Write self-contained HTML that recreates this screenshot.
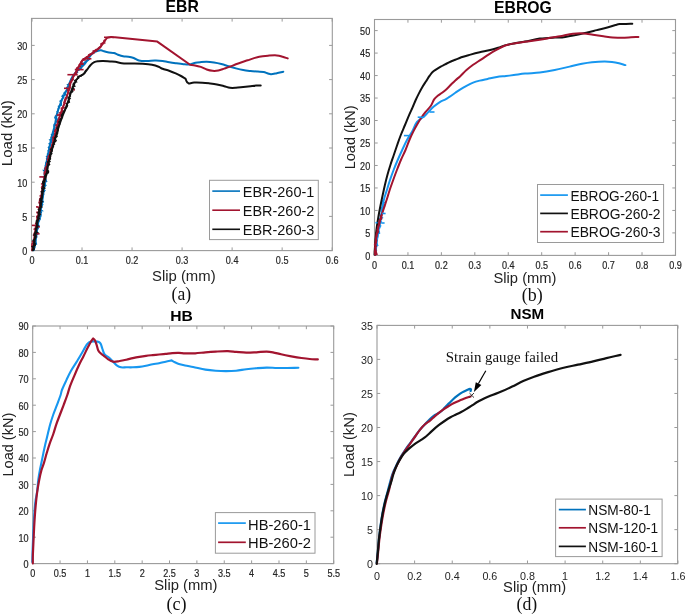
<!DOCTYPE html><html><head><meta charset="utf-8"><style>html,body{margin:0;padding:0;background:#fff}svg{display:block;will-change:transform}</style></head><body><svg width="685" height="615" viewBox="0 0 685 615">
<rect width="685" height="615" fill="#fff"/>
<rect x="31.5" y="18.4" width="300.8" height="232.2" fill="none" stroke="#9a9a9a" stroke-width="1.1"/>
<line x1="32.00" y1="250.6" x2="32.00" y2="247.4" stroke="#9a9a9a" stroke-width="1"/>
<line x1="32.00" y1="18.4" x2="32.00" y2="21.599999999999998" stroke="#9a9a9a" stroke-width="1"/>
<text transform="translate(32.00,264.1) scale(0.9,1)" font-size="10.1" text-anchor="middle" fill="#262626" stroke="#262626" stroke-width="0.2" font-family="Liberation Sans, sans-serif">0</text>
<line x1="82.03" y1="250.6" x2="82.03" y2="247.4" stroke="#9a9a9a" stroke-width="1"/>
<line x1="82.03" y1="18.4" x2="82.03" y2="21.599999999999998" stroke="#9a9a9a" stroke-width="1"/>
<text transform="translate(82.03,264.1) scale(0.9,1)" font-size="10.1" text-anchor="middle" fill="#262626" stroke="#262626" stroke-width="0.2" font-family="Liberation Sans, sans-serif">0.1</text>
<line x1="132.06" y1="250.6" x2="132.06" y2="247.4" stroke="#9a9a9a" stroke-width="1"/>
<line x1="132.06" y1="18.4" x2="132.06" y2="21.599999999999998" stroke="#9a9a9a" stroke-width="1"/>
<text transform="translate(132.06,264.1) scale(0.9,1)" font-size="10.1" text-anchor="middle" fill="#262626" stroke="#262626" stroke-width="0.2" font-family="Liberation Sans, sans-serif">0.2</text>
<line x1="182.09" y1="250.6" x2="182.09" y2="247.4" stroke="#9a9a9a" stroke-width="1"/>
<line x1="182.09" y1="18.4" x2="182.09" y2="21.599999999999998" stroke="#9a9a9a" stroke-width="1"/>
<text transform="translate(182.09,264.1) scale(0.9,1)" font-size="10.1" text-anchor="middle" fill="#262626" stroke="#262626" stroke-width="0.2" font-family="Liberation Sans, sans-serif">0.3</text>
<line x1="232.12" y1="250.6" x2="232.12" y2="247.4" stroke="#9a9a9a" stroke-width="1"/>
<line x1="232.12" y1="18.4" x2="232.12" y2="21.599999999999998" stroke="#9a9a9a" stroke-width="1"/>
<text transform="translate(232.12,264.1) scale(0.9,1)" font-size="10.1" text-anchor="middle" fill="#262626" stroke="#262626" stroke-width="0.2" font-family="Liberation Sans, sans-serif">0.4</text>
<line x1="282.15" y1="250.6" x2="282.15" y2="247.4" stroke="#9a9a9a" stroke-width="1"/>
<line x1="282.15" y1="18.4" x2="282.15" y2="21.599999999999998" stroke="#9a9a9a" stroke-width="1"/>
<text transform="translate(282.15,264.1) scale(0.9,1)" font-size="10.1" text-anchor="middle" fill="#262626" stroke="#262626" stroke-width="0.2" font-family="Liberation Sans, sans-serif">0.5</text>
<line x1="332.18" y1="250.6" x2="332.18" y2="247.4" stroke="#9a9a9a" stroke-width="1"/>
<line x1="332.18" y1="18.4" x2="332.18" y2="21.599999999999998" stroke="#9a9a9a" stroke-width="1"/>
<text transform="translate(332.18,264.1) scale(0.9,1)" font-size="10.1" text-anchor="middle" fill="#262626" stroke="#262626" stroke-width="0.2" font-family="Liberation Sans, sans-serif">0.6</text>
<line x1="31.5" y1="250.60" x2="34.7" y2="250.60" stroke="#9a9a9a" stroke-width="1"/>
<line x1="332.3" y1="250.60" x2="329.1" y2="250.60" stroke="#9a9a9a" stroke-width="1"/>
<text transform="translate(27.4,254.99) scale(0.9,1)" font-size="10.1" text-anchor="end" fill="#262626" stroke="#262626" stroke-width="0.2" font-family="Liberation Sans, sans-serif">0</text>
<line x1="31.5" y1="216.40" x2="34.7" y2="216.40" stroke="#9a9a9a" stroke-width="1"/>
<line x1="332.3" y1="216.40" x2="329.1" y2="216.40" stroke="#9a9a9a" stroke-width="1"/>
<text transform="translate(27.4,220.79) scale(0.9,1)" font-size="10.1" text-anchor="end" fill="#262626" stroke="#262626" stroke-width="0.2" font-family="Liberation Sans, sans-serif">5</text>
<line x1="31.5" y1="182.20" x2="34.7" y2="182.20" stroke="#9a9a9a" stroke-width="1"/>
<line x1="332.3" y1="182.20" x2="329.1" y2="182.20" stroke="#9a9a9a" stroke-width="1"/>
<text transform="translate(27.4,186.59) scale(0.9,1)" font-size="10.1" text-anchor="end" fill="#262626" stroke="#262626" stroke-width="0.2" font-family="Liberation Sans, sans-serif">10</text>
<line x1="31.5" y1="148.00" x2="34.7" y2="148.00" stroke="#9a9a9a" stroke-width="1"/>
<line x1="332.3" y1="148.00" x2="329.1" y2="148.00" stroke="#9a9a9a" stroke-width="1"/>
<text transform="translate(27.4,152.39) scale(0.9,1)" font-size="10.1" text-anchor="end" fill="#262626" stroke="#262626" stroke-width="0.2" font-family="Liberation Sans, sans-serif">15</text>
<line x1="31.5" y1="113.80" x2="34.7" y2="113.80" stroke="#9a9a9a" stroke-width="1"/>
<line x1="332.3" y1="113.80" x2="329.1" y2="113.80" stroke="#9a9a9a" stroke-width="1"/>
<text transform="translate(27.4,118.19) scale(0.9,1)" font-size="10.1" text-anchor="end" fill="#262626" stroke="#262626" stroke-width="0.2" font-family="Liberation Sans, sans-serif">20</text>
<line x1="31.5" y1="79.60" x2="34.7" y2="79.60" stroke="#9a9a9a" stroke-width="1"/>
<line x1="332.3" y1="79.60" x2="329.1" y2="79.60" stroke="#9a9a9a" stroke-width="1"/>
<text transform="translate(27.4,83.99) scale(0.9,1)" font-size="10.1" text-anchor="end" fill="#262626" stroke="#262626" stroke-width="0.2" font-family="Liberation Sans, sans-serif">25</text>
<line x1="31.5" y1="45.40" x2="34.7" y2="45.40" stroke="#9a9a9a" stroke-width="1"/>
<line x1="332.3" y1="45.40" x2="329.1" y2="45.40" stroke="#9a9a9a" stroke-width="1"/>
<text transform="translate(27.4,49.79) scale(0.9,1)" font-size="10.1" text-anchor="end" fill="#262626" stroke="#262626" stroke-width="0.2" font-family="Liberation Sans, sans-serif">30</text>
<rect x="374.5" y="19.5" width="301.0" height="235.9" fill="none" stroke="#9a9a9a" stroke-width="1.1"/>
<line x1="374.50" y1="255.4" x2="374.50" y2="252.20000000000002" stroke="#9a9a9a" stroke-width="1"/>
<line x1="374.50" y1="19.5" x2="374.50" y2="22.7" stroke="#9a9a9a" stroke-width="1"/>
<text transform="translate(374.50,269.1) scale(0.9,1)" font-size="10.1" text-anchor="middle" fill="#262626" stroke="#262626" stroke-width="0.2" font-family="Liberation Sans, sans-serif">0</text>
<line x1="407.94" y1="255.4" x2="407.94" y2="252.20000000000002" stroke="#9a9a9a" stroke-width="1"/>
<line x1="407.94" y1="19.5" x2="407.94" y2="22.7" stroke="#9a9a9a" stroke-width="1"/>
<text transform="translate(407.94,269.1) scale(0.9,1)" font-size="10.1" text-anchor="middle" fill="#262626" stroke="#262626" stroke-width="0.2" font-family="Liberation Sans, sans-serif">0.1</text>
<line x1="441.38" y1="255.4" x2="441.38" y2="252.20000000000002" stroke="#9a9a9a" stroke-width="1"/>
<line x1="441.38" y1="19.5" x2="441.38" y2="22.7" stroke="#9a9a9a" stroke-width="1"/>
<text transform="translate(441.38,269.1) scale(0.9,1)" font-size="10.1" text-anchor="middle" fill="#262626" stroke="#262626" stroke-width="0.2" font-family="Liberation Sans, sans-serif">0.2</text>
<line x1="474.82" y1="255.4" x2="474.82" y2="252.20000000000002" stroke="#9a9a9a" stroke-width="1"/>
<line x1="474.82" y1="19.5" x2="474.82" y2="22.7" stroke="#9a9a9a" stroke-width="1"/>
<text transform="translate(474.82,269.1) scale(0.9,1)" font-size="10.1" text-anchor="middle" fill="#262626" stroke="#262626" stroke-width="0.2" font-family="Liberation Sans, sans-serif">0.3</text>
<line x1="508.26" y1="255.4" x2="508.26" y2="252.20000000000002" stroke="#9a9a9a" stroke-width="1"/>
<line x1="508.26" y1="19.5" x2="508.26" y2="22.7" stroke="#9a9a9a" stroke-width="1"/>
<text transform="translate(508.26,269.1) scale(0.9,1)" font-size="10.1" text-anchor="middle" fill="#262626" stroke="#262626" stroke-width="0.2" font-family="Liberation Sans, sans-serif">0.4</text>
<line x1="541.70" y1="255.4" x2="541.70" y2="252.20000000000002" stroke="#9a9a9a" stroke-width="1"/>
<line x1="541.70" y1="19.5" x2="541.70" y2="22.7" stroke="#9a9a9a" stroke-width="1"/>
<text transform="translate(541.70,269.1) scale(0.9,1)" font-size="10.1" text-anchor="middle" fill="#262626" stroke="#262626" stroke-width="0.2" font-family="Liberation Sans, sans-serif">0.5</text>
<line x1="575.14" y1="255.4" x2="575.14" y2="252.20000000000002" stroke="#9a9a9a" stroke-width="1"/>
<line x1="575.14" y1="19.5" x2="575.14" y2="22.7" stroke="#9a9a9a" stroke-width="1"/>
<text transform="translate(575.14,269.1) scale(0.9,1)" font-size="10.1" text-anchor="middle" fill="#262626" stroke="#262626" stroke-width="0.2" font-family="Liberation Sans, sans-serif">0.6</text>
<line x1="608.58" y1="255.4" x2="608.58" y2="252.20000000000002" stroke="#9a9a9a" stroke-width="1"/>
<line x1="608.58" y1="19.5" x2="608.58" y2="22.7" stroke="#9a9a9a" stroke-width="1"/>
<text transform="translate(608.58,269.1) scale(0.9,1)" font-size="10.1" text-anchor="middle" fill="#262626" stroke="#262626" stroke-width="0.2" font-family="Liberation Sans, sans-serif">0.7</text>
<line x1="642.02" y1="255.4" x2="642.02" y2="252.20000000000002" stroke="#9a9a9a" stroke-width="1"/>
<line x1="642.02" y1="19.5" x2="642.02" y2="22.7" stroke="#9a9a9a" stroke-width="1"/>
<text transform="translate(642.02,269.1) scale(0.9,1)" font-size="10.1" text-anchor="middle" fill="#262626" stroke="#262626" stroke-width="0.2" font-family="Liberation Sans, sans-serif">0.8</text>
<line x1="675.46" y1="255.4" x2="675.46" y2="252.20000000000002" stroke="#9a9a9a" stroke-width="1"/>
<line x1="675.46" y1="19.5" x2="675.46" y2="22.7" stroke="#9a9a9a" stroke-width="1"/>
<text transform="translate(675.46,269.1) scale(0.9,1)" font-size="10.1" text-anchor="middle" fill="#262626" stroke="#262626" stroke-width="0.2" font-family="Liberation Sans, sans-serif">0.9</text>
<line x1="374.5" y1="255.40" x2="377.7" y2="255.40" stroke="#9a9a9a" stroke-width="1"/>
<line x1="675.5" y1="255.40" x2="672.3" y2="255.40" stroke="#9a9a9a" stroke-width="1"/>
<text transform="translate(370.2,259.79) scale(0.9,1)" font-size="10.1" text-anchor="end" fill="#262626" stroke="#262626" stroke-width="0.2" font-family="Liberation Sans, sans-serif">0</text>
<line x1="374.5" y1="232.92" x2="377.7" y2="232.92" stroke="#9a9a9a" stroke-width="1"/>
<line x1="675.5" y1="232.92" x2="672.3" y2="232.92" stroke="#9a9a9a" stroke-width="1"/>
<text transform="translate(370.2,237.31) scale(0.9,1)" font-size="10.1" text-anchor="end" fill="#262626" stroke="#262626" stroke-width="0.2" font-family="Liberation Sans, sans-serif">5</text>
<line x1="374.5" y1="210.44" x2="377.7" y2="210.44" stroke="#9a9a9a" stroke-width="1"/>
<line x1="675.5" y1="210.44" x2="672.3" y2="210.44" stroke="#9a9a9a" stroke-width="1"/>
<text transform="translate(370.2,214.83) scale(0.9,1)" font-size="10.1" text-anchor="end" fill="#262626" stroke="#262626" stroke-width="0.2" font-family="Liberation Sans, sans-serif">10</text>
<line x1="374.5" y1="187.96" x2="377.7" y2="187.96" stroke="#9a9a9a" stroke-width="1"/>
<line x1="675.5" y1="187.96" x2="672.3" y2="187.96" stroke="#9a9a9a" stroke-width="1"/>
<text transform="translate(370.2,192.35) scale(0.9,1)" font-size="10.1" text-anchor="end" fill="#262626" stroke="#262626" stroke-width="0.2" font-family="Liberation Sans, sans-serif">15</text>
<line x1="374.5" y1="165.48" x2="377.7" y2="165.48" stroke="#9a9a9a" stroke-width="1"/>
<line x1="675.5" y1="165.48" x2="672.3" y2="165.48" stroke="#9a9a9a" stroke-width="1"/>
<text transform="translate(370.2,169.87) scale(0.9,1)" font-size="10.1" text-anchor="end" fill="#262626" stroke="#262626" stroke-width="0.2" font-family="Liberation Sans, sans-serif">20</text>
<line x1="374.5" y1="143.00" x2="377.7" y2="143.00" stroke="#9a9a9a" stroke-width="1"/>
<line x1="675.5" y1="143.00" x2="672.3" y2="143.00" stroke="#9a9a9a" stroke-width="1"/>
<text transform="translate(370.2,147.39) scale(0.9,1)" font-size="10.1" text-anchor="end" fill="#262626" stroke="#262626" stroke-width="0.2" font-family="Liberation Sans, sans-serif">25</text>
<line x1="374.5" y1="120.52" x2="377.7" y2="120.52" stroke="#9a9a9a" stroke-width="1"/>
<line x1="675.5" y1="120.52" x2="672.3" y2="120.52" stroke="#9a9a9a" stroke-width="1"/>
<text transform="translate(370.2,124.91) scale(0.9,1)" font-size="10.1" text-anchor="end" fill="#262626" stroke="#262626" stroke-width="0.2" font-family="Liberation Sans, sans-serif">30</text>
<line x1="374.5" y1="98.04" x2="377.7" y2="98.04" stroke="#9a9a9a" stroke-width="1"/>
<line x1="675.5" y1="98.04" x2="672.3" y2="98.04" stroke="#9a9a9a" stroke-width="1"/>
<text transform="translate(370.2,102.43) scale(0.9,1)" font-size="10.1" text-anchor="end" fill="#262626" stroke="#262626" stroke-width="0.2" font-family="Liberation Sans, sans-serif">35</text>
<line x1="374.5" y1="75.56" x2="377.7" y2="75.56" stroke="#9a9a9a" stroke-width="1"/>
<line x1="675.5" y1="75.56" x2="672.3" y2="75.56" stroke="#9a9a9a" stroke-width="1"/>
<text transform="translate(370.2,79.95) scale(0.9,1)" font-size="10.1" text-anchor="end" fill="#262626" stroke="#262626" stroke-width="0.2" font-family="Liberation Sans, sans-serif">40</text>
<line x1="374.5" y1="53.08" x2="377.7" y2="53.08" stroke="#9a9a9a" stroke-width="1"/>
<line x1="675.5" y1="53.08" x2="672.3" y2="53.08" stroke="#9a9a9a" stroke-width="1"/>
<text transform="translate(370.2,57.47) scale(0.9,1)" font-size="10.1" text-anchor="end" fill="#262626" stroke="#262626" stroke-width="0.2" font-family="Liberation Sans, sans-serif">45</text>
<line x1="374.5" y1="30.60" x2="377.7" y2="30.60" stroke="#9a9a9a" stroke-width="1"/>
<line x1="675.5" y1="30.60" x2="672.3" y2="30.60" stroke="#9a9a9a" stroke-width="1"/>
<text transform="translate(370.2,34.99) scale(0.9,1)" font-size="10.1" text-anchor="end" fill="#262626" stroke="#262626" stroke-width="0.2" font-family="Liberation Sans, sans-serif">50</text>
<rect x="32.7" y="326.0" width="301.0" height="237.60000000000002" fill="none" stroke="#9a9a9a" stroke-width="1.1"/>
<line x1="32.70" y1="563.6" x2="32.70" y2="560.4" stroke="#9a9a9a" stroke-width="1"/>
<line x1="32.70" y1="326.0" x2="32.70" y2="329.2" stroke="#9a9a9a" stroke-width="1"/>
<text transform="translate(32.70,577.3) scale(0.9,1)" font-size="10.1" text-anchor="middle" fill="#262626" stroke="#262626" stroke-width="0.2" font-family="Liberation Sans, sans-serif">0</text>
<line x1="60.06" y1="563.6" x2="60.06" y2="560.4" stroke="#9a9a9a" stroke-width="1"/>
<line x1="60.06" y1="326.0" x2="60.06" y2="329.2" stroke="#9a9a9a" stroke-width="1"/>
<text transform="translate(60.06,577.3) scale(0.9,1)" font-size="10.1" text-anchor="middle" fill="#262626" stroke="#262626" stroke-width="0.2" font-family="Liberation Sans, sans-serif">0.5</text>
<line x1="87.43" y1="563.6" x2="87.43" y2="560.4" stroke="#9a9a9a" stroke-width="1"/>
<line x1="87.43" y1="326.0" x2="87.43" y2="329.2" stroke="#9a9a9a" stroke-width="1"/>
<text transform="translate(87.43,577.3) scale(0.9,1)" font-size="10.1" text-anchor="middle" fill="#262626" stroke="#262626" stroke-width="0.2" font-family="Liberation Sans, sans-serif">1</text>
<line x1="114.80" y1="563.6" x2="114.80" y2="560.4" stroke="#9a9a9a" stroke-width="1"/>
<line x1="114.80" y1="326.0" x2="114.80" y2="329.2" stroke="#9a9a9a" stroke-width="1"/>
<text transform="translate(114.80,577.3) scale(0.9,1)" font-size="10.1" text-anchor="middle" fill="#262626" stroke="#262626" stroke-width="0.2" font-family="Liberation Sans, sans-serif">1.5</text>
<line x1="142.16" y1="563.6" x2="142.16" y2="560.4" stroke="#9a9a9a" stroke-width="1"/>
<line x1="142.16" y1="326.0" x2="142.16" y2="329.2" stroke="#9a9a9a" stroke-width="1"/>
<text transform="translate(142.16,577.3) scale(0.9,1)" font-size="10.1" text-anchor="middle" fill="#262626" stroke="#262626" stroke-width="0.2" font-family="Liberation Sans, sans-serif">2</text>
<line x1="169.52" y1="563.6" x2="169.52" y2="560.4" stroke="#9a9a9a" stroke-width="1"/>
<line x1="169.52" y1="326.0" x2="169.52" y2="329.2" stroke="#9a9a9a" stroke-width="1"/>
<text transform="translate(169.52,577.3) scale(0.9,1)" font-size="10.1" text-anchor="middle" fill="#262626" stroke="#262626" stroke-width="0.2" font-family="Liberation Sans, sans-serif">2.5</text>
<line x1="196.89" y1="563.6" x2="196.89" y2="560.4" stroke="#9a9a9a" stroke-width="1"/>
<line x1="196.89" y1="326.0" x2="196.89" y2="329.2" stroke="#9a9a9a" stroke-width="1"/>
<text transform="translate(196.89,577.3) scale(0.9,1)" font-size="10.1" text-anchor="middle" fill="#262626" stroke="#262626" stroke-width="0.2" font-family="Liberation Sans, sans-serif">3</text>
<line x1="224.25" y1="563.6" x2="224.25" y2="560.4" stroke="#9a9a9a" stroke-width="1"/>
<line x1="224.25" y1="326.0" x2="224.25" y2="329.2" stroke="#9a9a9a" stroke-width="1"/>
<text transform="translate(224.25,577.3) scale(0.9,1)" font-size="10.1" text-anchor="middle" fill="#262626" stroke="#262626" stroke-width="0.2" font-family="Liberation Sans, sans-serif">3.5</text>
<line x1="251.62" y1="563.6" x2="251.62" y2="560.4" stroke="#9a9a9a" stroke-width="1"/>
<line x1="251.62" y1="326.0" x2="251.62" y2="329.2" stroke="#9a9a9a" stroke-width="1"/>
<text transform="translate(251.62,577.3) scale(0.9,1)" font-size="10.1" text-anchor="middle" fill="#262626" stroke="#262626" stroke-width="0.2" font-family="Liberation Sans, sans-serif">4</text>
<line x1="278.99" y1="563.6" x2="278.99" y2="560.4" stroke="#9a9a9a" stroke-width="1"/>
<line x1="278.99" y1="326.0" x2="278.99" y2="329.2" stroke="#9a9a9a" stroke-width="1"/>
<text transform="translate(278.99,577.3) scale(0.9,1)" font-size="10.1" text-anchor="middle" fill="#262626" stroke="#262626" stroke-width="0.2" font-family="Liberation Sans, sans-serif">4.5</text>
<line x1="306.35" y1="563.6" x2="306.35" y2="560.4" stroke="#9a9a9a" stroke-width="1"/>
<line x1="306.35" y1="326.0" x2="306.35" y2="329.2" stroke="#9a9a9a" stroke-width="1"/>
<text transform="translate(306.35,577.3) scale(0.9,1)" font-size="10.1" text-anchor="middle" fill="#262626" stroke="#262626" stroke-width="0.2" font-family="Liberation Sans, sans-serif">5</text>
<line x1="333.71" y1="563.6" x2="333.71" y2="560.4" stroke="#9a9a9a" stroke-width="1"/>
<line x1="333.71" y1="326.0" x2="333.71" y2="329.2" stroke="#9a9a9a" stroke-width="1"/>
<text transform="translate(333.71,577.3) scale(0.9,1)" font-size="10.1" text-anchor="middle" fill="#262626" stroke="#262626" stroke-width="0.2" font-family="Liberation Sans, sans-serif">5.5</text>
<line x1="32.7" y1="563.60" x2="35.900000000000006" y2="563.60" stroke="#9a9a9a" stroke-width="1"/>
<line x1="333.7" y1="563.60" x2="330.5" y2="563.60" stroke="#9a9a9a" stroke-width="1"/>
<text transform="translate(28.6,567.99) scale(0.9,1)" font-size="10.1" text-anchor="end" fill="#262626" stroke="#262626" stroke-width="0.2" font-family="Liberation Sans, sans-serif">0</text>
<line x1="32.7" y1="537.20" x2="35.900000000000006" y2="537.20" stroke="#9a9a9a" stroke-width="1"/>
<line x1="333.7" y1="537.20" x2="330.5" y2="537.20" stroke="#9a9a9a" stroke-width="1"/>
<text transform="translate(28.6,541.59) scale(0.9,1)" font-size="10.1" text-anchor="end" fill="#262626" stroke="#262626" stroke-width="0.2" font-family="Liberation Sans, sans-serif">10</text>
<line x1="32.7" y1="510.80" x2="35.900000000000006" y2="510.80" stroke="#9a9a9a" stroke-width="1"/>
<line x1="333.7" y1="510.80" x2="330.5" y2="510.80" stroke="#9a9a9a" stroke-width="1"/>
<text transform="translate(28.6,515.19) scale(0.9,1)" font-size="10.1" text-anchor="end" fill="#262626" stroke="#262626" stroke-width="0.2" font-family="Liberation Sans, sans-serif">20</text>
<line x1="32.7" y1="484.40" x2="35.900000000000006" y2="484.40" stroke="#9a9a9a" stroke-width="1"/>
<line x1="333.7" y1="484.40" x2="330.5" y2="484.40" stroke="#9a9a9a" stroke-width="1"/>
<text transform="translate(28.6,488.79) scale(0.9,1)" font-size="10.1" text-anchor="end" fill="#262626" stroke="#262626" stroke-width="0.2" font-family="Liberation Sans, sans-serif">30</text>
<line x1="32.7" y1="458.00" x2="35.900000000000006" y2="458.00" stroke="#9a9a9a" stroke-width="1"/>
<line x1="333.7" y1="458.00" x2="330.5" y2="458.00" stroke="#9a9a9a" stroke-width="1"/>
<text transform="translate(28.6,462.39) scale(0.9,1)" font-size="10.1" text-anchor="end" fill="#262626" stroke="#262626" stroke-width="0.2" font-family="Liberation Sans, sans-serif">40</text>
<line x1="32.7" y1="431.60" x2="35.900000000000006" y2="431.60" stroke="#9a9a9a" stroke-width="1"/>
<line x1="333.7" y1="431.60" x2="330.5" y2="431.60" stroke="#9a9a9a" stroke-width="1"/>
<text transform="translate(28.6,435.99) scale(0.9,1)" font-size="10.1" text-anchor="end" fill="#262626" stroke="#262626" stroke-width="0.2" font-family="Liberation Sans, sans-serif">50</text>
<line x1="32.7" y1="405.20" x2="35.900000000000006" y2="405.20" stroke="#9a9a9a" stroke-width="1"/>
<line x1="333.7" y1="405.20" x2="330.5" y2="405.20" stroke="#9a9a9a" stroke-width="1"/>
<text transform="translate(28.6,409.59) scale(0.9,1)" font-size="10.1" text-anchor="end" fill="#262626" stroke="#262626" stroke-width="0.2" font-family="Liberation Sans, sans-serif">60</text>
<line x1="32.7" y1="378.80" x2="35.900000000000006" y2="378.80" stroke="#9a9a9a" stroke-width="1"/>
<line x1="333.7" y1="378.80" x2="330.5" y2="378.80" stroke="#9a9a9a" stroke-width="1"/>
<text transform="translate(28.6,383.19) scale(0.9,1)" font-size="10.1" text-anchor="end" fill="#262626" stroke="#262626" stroke-width="0.2" font-family="Liberation Sans, sans-serif">70</text>
<line x1="32.7" y1="352.40" x2="35.900000000000006" y2="352.40" stroke="#9a9a9a" stroke-width="1"/>
<line x1="333.7" y1="352.40" x2="330.5" y2="352.40" stroke="#9a9a9a" stroke-width="1"/>
<text transform="translate(28.6,356.79) scale(0.9,1)" font-size="10.1" text-anchor="end" fill="#262626" stroke="#262626" stroke-width="0.2" font-family="Liberation Sans, sans-serif">80</text>
<line x1="32.7" y1="326.00" x2="35.900000000000006" y2="326.00" stroke="#9a9a9a" stroke-width="1"/>
<line x1="333.7" y1="326.00" x2="330.5" y2="326.00" stroke="#9a9a9a" stroke-width="1"/>
<text transform="translate(28.6,330.39) scale(0.9,1)" font-size="10.1" text-anchor="end" fill="#262626" stroke="#262626" stroke-width="0.2" font-family="Liberation Sans, sans-serif">90</text>
<rect x="377.0" y="325.4" width="300.6" height="238.30000000000007" fill="none" stroke="#9a9a9a" stroke-width="1.1"/>
<line x1="377.00" y1="563.7" x2="377.00" y2="560.5" stroke="#9a9a9a" stroke-width="1"/>
<line x1="377.00" y1="325.4" x2="377.00" y2="328.59999999999997" stroke="#9a9a9a" stroke-width="1"/>
<text transform="translate(377.00,580.1) scale(0.92,1)" font-size="11.7" text-anchor="middle" fill="#262626" stroke="#262626" stroke-width="0" font-family="Liberation Sans, sans-serif">0</text>
<line x1="414.62" y1="563.7" x2="414.62" y2="560.5" stroke="#9a9a9a" stroke-width="1"/>
<line x1="414.62" y1="325.4" x2="414.62" y2="328.59999999999997" stroke="#9a9a9a" stroke-width="1"/>
<text transform="translate(414.62,580.1) scale(0.92,1)" font-size="11.7" text-anchor="middle" fill="#262626" stroke="#262626" stroke-width="0" font-family="Liberation Sans, sans-serif">0.2</text>
<line x1="452.24" y1="563.7" x2="452.24" y2="560.5" stroke="#9a9a9a" stroke-width="1"/>
<line x1="452.24" y1="325.4" x2="452.24" y2="328.59999999999997" stroke="#9a9a9a" stroke-width="1"/>
<text transform="translate(452.24,580.1) scale(0.92,1)" font-size="11.7" text-anchor="middle" fill="#262626" stroke="#262626" stroke-width="0" font-family="Liberation Sans, sans-serif">0.4</text>
<line x1="489.86" y1="563.7" x2="489.86" y2="560.5" stroke="#9a9a9a" stroke-width="1"/>
<line x1="489.86" y1="325.4" x2="489.86" y2="328.59999999999997" stroke="#9a9a9a" stroke-width="1"/>
<text transform="translate(489.86,580.1) scale(0.92,1)" font-size="11.7" text-anchor="middle" fill="#262626" stroke="#262626" stroke-width="0" font-family="Liberation Sans, sans-serif">0.6</text>
<line x1="527.48" y1="563.7" x2="527.48" y2="560.5" stroke="#9a9a9a" stroke-width="1"/>
<line x1="527.48" y1="325.4" x2="527.48" y2="328.59999999999997" stroke="#9a9a9a" stroke-width="1"/>
<text transform="translate(527.48,580.1) scale(0.92,1)" font-size="11.7" text-anchor="middle" fill="#262626" stroke="#262626" stroke-width="0" font-family="Liberation Sans, sans-serif">0.8</text>
<line x1="565.10" y1="563.7" x2="565.10" y2="560.5" stroke="#9a9a9a" stroke-width="1"/>
<line x1="565.10" y1="325.4" x2="565.10" y2="328.59999999999997" stroke="#9a9a9a" stroke-width="1"/>
<text transform="translate(565.10,580.1) scale(0.92,1)" font-size="11.7" text-anchor="middle" fill="#262626" stroke="#262626" stroke-width="0" font-family="Liberation Sans, sans-serif">1</text>
<line x1="602.72" y1="563.7" x2="602.72" y2="560.5" stroke="#9a9a9a" stroke-width="1"/>
<line x1="602.72" y1="325.4" x2="602.72" y2="328.59999999999997" stroke="#9a9a9a" stroke-width="1"/>
<text transform="translate(602.72,580.1) scale(0.92,1)" font-size="11.7" text-anchor="middle" fill="#262626" stroke="#262626" stroke-width="0" font-family="Liberation Sans, sans-serif">1.2</text>
<line x1="640.34" y1="563.7" x2="640.34" y2="560.5" stroke="#9a9a9a" stroke-width="1"/>
<line x1="640.34" y1="325.4" x2="640.34" y2="328.59999999999997" stroke="#9a9a9a" stroke-width="1"/>
<text transform="translate(640.34,580.1) scale(0.92,1)" font-size="11.7" text-anchor="middle" fill="#262626" stroke="#262626" stroke-width="0" font-family="Liberation Sans, sans-serif">1.4</text>
<line x1="677.96" y1="563.7" x2="677.96" y2="560.5" stroke="#9a9a9a" stroke-width="1"/>
<line x1="677.96" y1="325.4" x2="677.96" y2="328.59999999999997" stroke="#9a9a9a" stroke-width="1"/>
<text transform="translate(677.96,580.1) scale(0.92,1)" font-size="11.7" text-anchor="middle" fill="#262626" stroke="#262626" stroke-width="0" font-family="Liberation Sans, sans-serif">1.6</text>
<line x1="377.0" y1="563.70" x2="380.2" y2="563.70" stroke="#9a9a9a" stroke-width="1"/>
<line x1="677.6" y1="563.70" x2="674.4" y2="563.70" stroke="#9a9a9a" stroke-width="1"/>
<text transform="translate(373,568.10) scale(0.92,1)" font-size="11.7" text-anchor="end" fill="#262626" stroke="#262626" stroke-width="0" font-family="Liberation Sans, sans-serif">0</text>
<line x1="377.0" y1="529.65" x2="380.2" y2="529.65" stroke="#9a9a9a" stroke-width="1"/>
<line x1="677.6" y1="529.65" x2="674.4" y2="529.65" stroke="#9a9a9a" stroke-width="1"/>
<text transform="translate(373,534.05) scale(0.92,1)" font-size="11.7" text-anchor="end" fill="#262626" stroke="#262626" stroke-width="0" font-family="Liberation Sans, sans-serif">5</text>
<line x1="377.0" y1="495.60" x2="380.2" y2="495.60" stroke="#9a9a9a" stroke-width="1"/>
<line x1="677.6" y1="495.60" x2="674.4" y2="495.60" stroke="#9a9a9a" stroke-width="1"/>
<text transform="translate(373,500.00) scale(0.92,1)" font-size="11.7" text-anchor="end" fill="#262626" stroke="#262626" stroke-width="0" font-family="Liberation Sans, sans-serif">10</text>
<line x1="377.0" y1="461.55" x2="380.2" y2="461.55" stroke="#9a9a9a" stroke-width="1"/>
<line x1="677.6" y1="461.55" x2="674.4" y2="461.55" stroke="#9a9a9a" stroke-width="1"/>
<text transform="translate(373,465.95) scale(0.92,1)" font-size="11.7" text-anchor="end" fill="#262626" stroke="#262626" stroke-width="0" font-family="Liberation Sans, sans-serif">15</text>
<line x1="377.0" y1="427.50" x2="380.2" y2="427.50" stroke="#9a9a9a" stroke-width="1"/>
<line x1="677.6" y1="427.50" x2="674.4" y2="427.50" stroke="#9a9a9a" stroke-width="1"/>
<text transform="translate(373,431.90) scale(0.92,1)" font-size="11.7" text-anchor="end" fill="#262626" stroke="#262626" stroke-width="0" font-family="Liberation Sans, sans-serif">20</text>
<line x1="377.0" y1="393.45" x2="380.2" y2="393.45" stroke="#9a9a9a" stroke-width="1"/>
<line x1="677.6" y1="393.45" x2="674.4" y2="393.45" stroke="#9a9a9a" stroke-width="1"/>
<text transform="translate(373,397.85) scale(0.92,1)" font-size="11.7" text-anchor="end" fill="#262626" stroke="#262626" stroke-width="0" font-family="Liberation Sans, sans-serif">25</text>
<line x1="377.0" y1="359.40" x2="380.2" y2="359.40" stroke="#9a9a9a" stroke-width="1"/>
<line x1="677.6" y1="359.40" x2="674.4" y2="359.40" stroke="#9a9a9a" stroke-width="1"/>
<text transform="translate(373,363.80) scale(0.92,1)" font-size="11.7" text-anchor="end" fill="#262626" stroke="#262626" stroke-width="0" font-family="Liberation Sans, sans-serif">30</text>
<line x1="377.0" y1="325.35" x2="380.2" y2="325.35" stroke="#9a9a9a" stroke-width="1"/>
<line x1="677.6" y1="325.35" x2="674.4" y2="325.35" stroke="#9a9a9a" stroke-width="1"/>
<text transform="translate(373,329.75) scale(0.92,1)" font-size="11.7" text-anchor="end" fill="#262626" stroke="#262626" stroke-width="0" font-family="Liberation Sans, sans-serif">35</text>
<path d="M33.70,250.30 C34.00,249.07 34.32,248.05 34.60,246.60 C35.00,244.58 35.33,241.73 35.70,239.30 C36.07,236.87 36.43,234.44 36.80,232.00 C37.17,229.54 37.47,227.05 37.90,224.60 C38.33,222.15 38.92,219.73 39.40,217.30 C39.88,214.87 40.38,212.32 40.80,210.00 C41.18,207.90 41.46,206.15 41.80,204.00 C42.19,201.53 42.62,198.67 43.00,196.00 C43.38,193.33 43.70,190.66 44.10,188.00 C44.50,185.33 45.38,182.41 45.40,180.00 C45.41,178.02 44.62,176.54 44.60,174.60 C44.57,172.35 45.10,169.80 45.50,167.30 C45.92,164.64 46.54,161.95 47.10,159.10 C47.71,156.00 48.37,152.49 49.00,149.40 C49.57,146.58 50.09,144.00 50.70,141.30 C51.32,138.57 52.00,135.82 52.70,133.10 C53.40,130.39 54.26,127.86 54.90,125.00 C55.61,121.86 55.91,118.22 56.70,115.00 C57.46,111.90 58.46,108.90 59.50,106.00 C60.50,103.21 61.59,100.58 62.80,97.90 C64.02,95.18 65.44,92.77 66.80,89.80 C68.42,86.26 69.90,81.33 71.80,78.00 C73.37,75.25 75.12,73.04 77.00,71.00 C78.74,69.12 80.96,67.80 82.60,66.10 C84.09,64.55 85.10,63.12 86.50,61.30 C88.27,59.01 90.22,55.14 92.30,53.40 C93.85,52.10 95.62,51.52 97.20,51.00 C98.54,50.56 99.91,50.21 101.10,50.30 C102.15,50.38 102.90,50.98 104.00,51.30 C105.41,51.72 107.25,52.22 108.90,52.50 C110.55,52.78 112.35,52.60 113.90,53.00 C115.34,53.37 116.46,54.18 117.90,54.70 C119.51,55.29 121.34,55.97 123.10,56.30 C124.84,56.63 126.64,56.42 128.40,56.70 C130.18,56.98 131.97,57.38 133.70,58.00 C135.48,58.64 136.93,59.97 138.90,60.50 C141.21,61.12 144.17,61.08 146.80,61.10 C149.43,61.12 152.07,60.63 154.70,60.60 C157.33,60.57 160.25,60.63 162.60,60.90 C164.52,61.12 165.88,61.56 167.80,61.90 C170.16,62.32 173.06,62.82 175.70,63.20 C178.33,63.58 181.09,64.00 183.60,64.20 C185.87,64.38 188.06,64.67 190.10,64.40 C191.98,64.15 193.61,63.18 195.40,62.80 C197.18,62.42 198.96,62.27 200.80,62.10 C202.72,61.93 204.63,61.75 206.70,61.80 C209.01,61.85 211.58,62.14 214.00,62.50 C216.44,62.87 218.88,63.39 221.30,64.00 C223.75,64.62 226.17,65.47 228.60,66.20 C231.03,66.93 233.46,67.75 235.90,68.40 C238.32,69.05 240.76,69.67 243.20,70.10 C245.62,70.53 248.06,70.75 250.50,71.00 C252.93,71.25 255.51,71.43 257.80,71.60 C259.84,71.75 261.82,71.64 263.60,72.00 C265.19,72.32 266.68,73.12 268.00,73.50 C269.06,73.81 269.76,74.16 270.90,74.20 C272.52,74.26 274.79,73.60 276.80,73.20 C278.92,72.78 281.13,72.20 283.30,71.70" fill="none" stroke="#0072BD" stroke-width="2.0" stroke-linejoin="round" stroke-linecap="round" />
<path d="M32.91,250.35 L33.61,249.19 L34.68,247.31 L33.14,247.00 L34.06,245.06 L36.45,244.13 L36.16,242.92 L35.75,241.31 L35.92,240.96 L35.77,239.59 L36.40,237.56 L36.84,236.98 L35.65,235.09 L37.53,234.40 L37.27,233.67 L37.44,232.51 L36.67,231.13 L37.00,230.06 L38.49,227.82 L36.44,226.73 L39.11,225.76 L38.28,224.36 L38.17,223.25 L37.95,222.27 L38.90,221.44 L39.45,220.25 L40.22,219.11 L39.91,216.90 L40.72,216.64 L41.08,214.95 L40.74,213.30 L41.33,212.52 L39.92,210.69 L41.86,210.59 L39.77,209.16 L40.93,207.18 L40.78,206.72 L42.72,204.65 L42.14,203.45 L42.66,202.46 L43.34,201.91 L42.42,200.60 L42.03,198.16 L43.10,196.77 L42.09,195.89 L43.51,194.25 L41.99,193.77 L42.99,192.55 L44.92,190.52 L43.80,189.36 L44.53,188.11 L44.49,186.81 L45.86,185.34 L44.54,184.26 L44.18,182.43 L46.62,181.36 L45.55,179.41 L44.95,178.75 L43.56,177.44 L45.20,175.42 L44.98,174.56 L45.29,173.21 L45.52,172.45 L43.62,170.42 L45.73,170.29 L44.60,168.46 L45.78,167.08 L45.36,165.71 L45.64,164.68 L45.70,163.05 L47.38,161.27 L47.04,160.75 L46.53,158.77 L48.25,157.57 L46.64,156.60 L48.41,154.98 L47.52,154.05 L49.29,152.96 L49.59,151.43 L48.27,150.79 L50.15,149.34 L48.46,147.60 L49.66,146.33 L50.77,145.76 L49.18,143.73 L51.34,142.82 L51.62,141.11 L49.87,139.88 L52.15,138.68 L51.10,137.69 L51.60,136.51 L53.39,135.03 L50.93,134.80 L53.84,133.68 L52.87,132.29 L54.72,130.07 L54.54,129.45 L54.66,127.72 L53.90,126.16 L54.08,124.48 L55.39,123.49 L56.28,121.95 L56.79,121.48 L57.07,120.48 L57.22,118.84 L54.79,117.79 L55.49,116.01 L57.19,115.03 L56.84,114.24 L57.84,112.24 L57.16,111.58 L58.23,110.20 L58.26,108.21 L59.20,107.67 L58.51,106.35 L61.24,105.21 L61.41,103.09 L61.30,102.96 L60.04,101.10 L61.16,100.25 L62.10,99.02 L63.63,97.30 L62.04,96.30 L62.82,95.07 L65.94,94.85 L63.84,93.27 L65.10,91.89 L65.78,91.13 L67.06,89.63 L66.37,88.41 L66.67,87.51 L68.95,86.12 L67.54,84.69 L68.92,84.03 L70.65,82.58 L71.20,81.69 L70.59,80.21 L71.29,79.42 L71.56,78.23 L72.43,76.69 L73.39,76.23 L72.74,74.91 L74.55,74.46 L76.82,72.85 L77.45,72.35 L76.29,70.96 L76.80,70.56 L79.35,69.83 L80.68,68.75 L81.43,67.81 L80.48,67.02 L81.11,65.67 L84.20,64.59 L82.94,63.70 L86.08,62.83 L84.29,62.67 L85.36,61.71 L87.75,60.72 L89.31,59.42 L89.57,57.78" fill="none" stroke="#0072BD" stroke-width="1.4" stroke-linejoin="miter"/>
<path d="M32.10,250.30 C32.40,249.07 32.72,248.05 33.00,246.60 C33.40,244.58 33.73,241.73 34.10,239.30 C34.47,236.87 34.83,234.44 35.20,232.00 C35.57,229.54 35.87,227.05 36.30,224.60 C36.73,222.15 37.32,219.73 37.80,217.30 C38.28,214.87 38.78,212.32 39.20,210.00 C39.58,207.90 39.86,206.15 40.20,204.00 C40.59,201.53 41.02,198.67 41.40,196.00 C41.78,193.33 42.10,190.66 42.50,188.00 C42.90,185.33 43.27,182.46 43.80,180.00 C44.26,177.84 44.89,176.17 45.40,174.00 C46.00,171.47 46.48,168.45 47.10,165.70 C47.72,162.95 48.43,160.22 49.10,157.50 C49.76,154.79 50.42,152.10 51.10,149.40 C51.78,146.70 52.52,144.01 53.20,141.30 C53.88,138.58 54.53,135.82 55.20,133.10 C55.86,130.39 56.45,127.78 57.20,125.00 C58.00,122.02 58.94,118.77 59.90,115.80 C60.81,112.98 61.81,110.39 62.80,107.60 C63.84,104.69 64.94,101.74 66.00,98.70 C67.11,95.52 68.45,91.92 69.30,88.90 C70.01,86.36 70.06,84.18 70.90,81.80 C71.83,79.18 73.46,76.41 74.80,73.90 C76.06,71.53 77.40,69.37 78.70,67.10 C80.00,64.83 80.92,62.11 82.60,60.30 C84.19,58.59 86.49,57.83 88.40,56.40 C90.40,54.91 92.39,52.95 94.30,51.50 C95.98,50.22 97.85,49.34 99.20,48.10 C100.38,47.02 101.15,45.81 102.10,44.60 C103.08,43.35 104.13,41.91 105.00,40.70 C105.74,39.67 106.33,38.77 107.00,37.80 L107.00,37.80 C108.30,37.53 109.58,37.09 110.90,37.00 C112.24,36.91 113.63,37.20 115.00,37.30 L115.00,37.30 L157.30,41.60 L157.30,41.60 L190.10,64.80 L190.10,64.80 C191.73,65.00 193.31,65.08 195.00,65.40 C196.86,65.75 198.89,66.24 200.80,66.90 C202.79,67.59 204.71,68.85 206.70,69.50 C208.61,70.13 210.55,70.63 212.50,70.80 C214.45,70.97 216.47,70.86 218.40,70.50 C220.37,70.13 222.27,69.25 224.20,68.60 C226.14,67.95 228.07,67.31 230.00,66.60 C231.97,65.88 233.94,65.04 235.90,64.30 C237.84,63.57 239.75,62.87 241.70,62.20 C243.65,61.53 245.64,60.94 247.60,60.30 C249.54,59.67 251.46,59.00 253.40,58.40 C255.33,57.80 257.05,57.13 259.20,56.70 C261.81,56.17 265.06,55.92 268.00,55.70 C270.93,55.48 274.19,55.16 276.80,55.40 C278.95,55.60 280.74,56.18 282.60,56.70 C284.37,57.19 286.00,57.83 287.70,58.40" fill="none" stroke="#A2142F" stroke-width="2.0" stroke-linejoin="round" stroke-linecap="round" />
<path d="M31.57,249.88 L32.85,248.55 L32.81,247.67 L31.67,246.61 L31.80,245.30 L32.08,243.68 L33.32,243.34 L32.60,241.40 L34.30,241.05 L34.33,239.18 L35.71,237.54 L35.54,236.61 L33.58,235.19 L34.26,234.81 L34.06,233.31 L35.62,231.85 L35.53,230.24 L34.25,229.18 L36.29,228.21 L35.38,227.17 L35.98,225.59 L37.18,224.84 L35.78,223.47 L36.88,222.62 L37.74,220.70 L38.74,219.28 L37.30,218.83 L36.76,217.29 L36.65,216.29 L39.06,214.95 L39.63,213.43 L39.32,212.55 L39.21,211.16 L40.22,210.53 L39.32,209.00 L38.28,207.84 L40.24,206.99 L40.97,204.94 L39.86,204.20 L38.97,202.62 L39.60,200.87 L39.48,200.32 L39.89,198.36 L40.87,197.78 L40.14,195.94 L41.73,195.13 L42.72,193.77 L41.29,191.90 L41.71,191.13 L43.69,188.91 L41.53,187.68 L41.92,186.65 L43.20,185.05 L41.66,183.90 L42.97,182.75 L44.94,181.56 L43.85,180.14 L44.65,178.26 L45.64,177.94 L45.88,176.76 L44.76,175.08 L44.21,174.16 L44.33,172.30 L45.01,171.22 L45.65,169.91 L44.87,168.84 L45.42,167.91 L45.43,167.33 L47.44,165.28 L46.64,164.35 L47.26,162.90 L49.00,162.78 L48.14,160.99 L47.29,159.37 L48.34,158.39 L50.09,157.09 L48.00,156.69 L49.85,154.38 L50.23,152.88 L50.52,152.67 L51.86,150.99 L50.38,149.24 L50.45,148.38 L51.90,147.03 L51.64,145.02 L53.43,144.58 L53.91,143.02 L54.15,141.59 L52.67,140.15 L53.34,138.39 L52.64,137.52 L53.62,136.85 L56.00,135.38 L56.23,134.86 L56.57,132.94 L54.69,131.42 L54.96,130.05 L56.57,129.53 L57.55,127.68 L57.33,126.71 L55.95,125.19 L58.82,124.02 L58.72,122.35 L57.39,121.40 L58.24,120.10 L60.54,118.30 L59.22,117.65 L60.57,115.40 L59.20,114.21 L61.94,113.82 L60.08,112.68 L63.00,111.30 L61.52,110.00 L61.28,108.19 L64.21,107.78 L63.34,106.85 L63.52,105.50 L65.15,103.44 L63.88,102.27 L64.31,101.35 L64.82,99.87 L64.89,99.19 L65.97,97.42 L67.08,96.74 L67.00,95.53 L67.65,93.84 L68.13,92.00 L68.30,90.97 L67.40,90.48 L68.32,88.87 L70.24,87.78 L69.31,86.56 L70.27,85.69 L69.18,84.24 L69.88,82.72 L71.72,81.81 L71.64,80.98 L73.25,79.47 L72.91,78.42 L73.17,77.52 L73.54,76.20 L74.18,75.56 L75.40,74.35 L76.78,72.48 L76.28,72.17 L77.77,70.06 L76.26,69.30 L76.77,67.92 L77.42,67.30 L80.20,66.44 L78.96,65.09 L81.13,63.27 L82.45,63.13 L81.11,61.98 L82.29,60.28 L85.23,59.92 L83.90,58.66 L86.13,57.77 L86.33,56.96 L89.07,55.82 L89.55,55.51 L88.92,54.56 L91.72,53.96 L91.03,53.72 L94.18,52.88 L93.11,51.22 L94.14,50.98 L96.06,49.36 L97.74,49.44 L100.16,47.81 L99.11,47.44 L101.35,46.01 L100.87,44.07 L103.39,43.54 L102.27,43.18 L104.68,42.04 L103.75,41.13 L104.70,39.69" fill="none" stroke="#A2142F" stroke-width="1.4" stroke-linejoin="miter"/>
<line x1="67.4" y1="74.7" x2="77.7" y2="74.7" stroke="#A2142F" stroke-width="1.6"/>
<line x1="74.8" y1="69.6" x2="83.6" y2="69.6" stroke="#A2142F" stroke-width="1.6"/>
<line x1="79.6" y1="64.2" x2="83.6" y2="64.2" stroke="#A2142F" stroke-width="1.6"/>
<line x1="82.6" y1="58.8" x2="91.4" y2="58.8" stroke="#A2142F" stroke-width="1.6"/>
<line x1="93.3" y1="51" x2="97.2" y2="51" stroke="#A2142F" stroke-width="1.6"/>
<line x1="104" y1="37.3" x2="113.8" y2="37.3" stroke="#A2142F" stroke-width="1.6"/>
<line x1="64" y1="88.3" x2="69.3" y2="88.3" stroke="#A2142F" stroke-width="1.6"/>
<line x1="71.7" y1="89.8" x2="75" y2="89.8" stroke="#A2142F" stroke-width="1.6"/>
<line x1="56.7" y1="115.1" x2="61.1" y2="115.1" stroke="#A2142F" stroke-width="1.6"/>
<line x1="39.3" y1="176.9" x2="44.4" y2="176.9" stroke="#A2142F" stroke-width="1.6"/>
<line x1="36" y1="206.9" x2="38.5" y2="206.9" stroke="#A2142F" stroke-width="1.6"/>
<line x1="36.3" y1="212.4" x2="38.2" y2="212.4" stroke="#A2142F" stroke-width="1.6"/>
<line x1="31.9" y1="225.4" x2="35.5" y2="225.4" stroke="#A2142F" stroke-width="1.6"/>
<line x1="36.6" y1="212.6" x2="39.6" y2="212.6" stroke="#A2142F" stroke-width="1.6"/>
<line x1="37.4" y1="226.8" x2="39.9" y2="226.8" stroke="#A2142F" stroke-width="1.6"/>
<line x1="35.9" y1="233.8" x2="39.6" y2="233.8" stroke="#A2142F" stroke-width="1.6"/>
<path d="M32.80,250.30 C33.10,249.07 33.42,248.05 33.70,246.60 C34.10,244.58 34.43,241.73 34.80,239.30 C35.17,236.87 35.53,234.44 35.90,232.00 C36.27,229.54 36.57,227.05 37.00,224.60 C37.43,222.15 38.02,219.73 38.50,217.30 C38.98,214.87 39.48,212.32 39.90,210.00 C40.28,207.90 40.56,206.15 40.90,204.00 C41.29,201.53 41.72,198.67 42.10,196.00 C42.48,193.33 42.80,190.66 43.20,188.00 C43.60,185.33 43.87,182.47 44.50,180.00 C45.07,177.77 46.14,176.03 46.70,173.80 C47.32,171.31 47.37,168.40 47.90,165.70 C48.44,162.96 49.22,160.22 49.90,157.50 C50.58,154.79 51.25,152.09 52.00,149.40 C52.75,146.69 53.60,144.01 54.40,141.30 C55.20,138.58 55.98,135.82 56.80,133.10 C57.62,130.39 58.42,127.65 59.30,125.00 C60.16,122.42 61.04,119.97 62.00,117.40 C63.00,114.73 64.14,112.08 65.20,109.30 C66.31,106.39 67.44,103.44 68.50,100.30 C69.65,96.90 70.63,92.75 71.80,89.60 C72.76,87.02 73.62,84.85 74.80,82.70 C75.94,80.63 77.14,78.40 78.70,76.90 C80.12,75.54 82.15,75.17 83.60,73.90 C85.10,72.59 86.31,70.63 87.50,69.10 C88.55,67.74 89.27,66.35 90.40,65.20 C91.54,64.05 92.93,62.85 94.30,62.20 C95.54,61.61 96.82,61.49 98.20,61.30 C99.73,61.09 101.33,61.08 103.10,61.10 C105.20,61.12 107.85,61.38 110.00,61.50 C111.88,61.61 113.45,61.55 115.30,61.80 C117.37,62.08 119.51,62.91 121.80,63.20 C124.29,63.51 126.74,63.41 129.70,63.50 C133.52,63.62 138.82,63.54 142.80,63.80 C146.14,64.02 149.21,64.23 152.00,64.80 C154.41,65.29 156.70,66.04 158.60,66.80 C160.13,67.41 161.08,68.20 162.60,68.80 C164.48,69.54 166.94,69.95 169.10,70.70 C171.31,71.47 173.64,72.47 175.70,73.40 C177.58,74.24 179.32,75.10 181.00,76.00 C182.58,76.84 184.00,77.73 185.50,78.60 L185.50,78.60 C185.97,79.70 186.27,81.05 186.90,81.90 C187.42,82.61 188.17,82.97 188.80,83.50 L188.80,83.50 C190.57,83.20 192.13,82.75 194.10,82.60 C196.53,82.41 199.65,82.56 202.30,82.70 C204.81,82.84 207.17,83.12 209.60,83.40 C212.04,83.68 214.48,83.94 216.90,84.40 C219.35,84.87 221.91,85.60 224.20,86.20 C226.25,86.73 228.04,87.53 230.00,87.80 C231.94,88.06 233.83,87.91 235.90,87.80 C238.21,87.67 240.77,87.27 243.20,87.00 C245.63,86.73 248.21,86.44 250.50,86.20 C252.54,85.98 254.50,85.73 256.30,85.60 C257.87,85.48 259.23,85.47 260.70,85.40" fill="none" stroke="#111111" stroke-width="2.0" stroke-linejoin="round" stroke-linecap="round" />
<path d="M33.17,250.59 L33.99,249.60 L34.12,248.34 L32.29,246.56 L35.21,245.56 L35.27,243.70 L34.16,242.65 L34.56,241.82 L33.16,240.18 L34.14,239.80 L35.78,237.67 L36.06,236.43 L35.70,235.20 L34.04,234.88 L34.85,232.88 L37.35,232.45 L35.45,231.32 L36.38,229.75 L35.56,228.83 L37.21,227.63 L38.00,225.59 L36.58,224.20 L36.19,222.86 L36.90,222.29 L36.26,221.16 L37.51,219.51 L39.21,218.49 L37.95,217.28 L39.35,215.55 L40.39,214.29 L39.95,214.06 L37.99,212.78 L39.27,211.31 L38.43,209.46 L39.14,209.35 L39.39,207.91 L41.79,206.93 L40.23,205.03 L40.97,204.33 L39.92,202.96 L42.19,201.76 L40.11,200.53 L40.47,198.48 L42.23,197.84 L41.62,196.51 L42.42,194.44 L41.92,192.95 L41.38,191.58 L43.40,191.26 L42.00,188.79 L44.66,188.04 L43.13,186.35 L43.92,185.72 L43.72,183.91 L42.73,183.17 L42.88,181.33 L45.52,179.56 L45.63,179.30 L45.77,177.87 L44.64,176.20 L45.21,175.45 L46.08,173.74 L48.40,172.87 L48.53,171.04 L47.26,170.03 L47.44,168.15 L47.41,166.63 L47.53,166.29 L49.57,164.68 L48.47,163.16 L47.52,161.91 L49.89,161.46 L48.91,160.19 L50.44,158.90 L50.39,157.81 L49.84,156.40 L49.94,154.78 L51.76,153.68 L50.68,152.63 L52.10,150.85 L50.53,149.46 L51.59,148.45 L52.57,147.47 L53.47,146.29 L52.92,144.94 L54.43,144.01 L53.61,142.87 L55.51,141.53 L56.17,140.68 L55.14,138.99 L54.43,138.19 L57.08,136.59 L56.69,135.71 L57.15,133.88 L57.64,133.20 L57.65,131.85 L57.89,131.12 L58.28,129.89 L56.81,128.06 L58.41,127.49 L58.10,126.38 L59.69,124.45 L59.66,123.40 L58.86,122.03 L60.10,120.82 L60.18,119.38 L61.45,118.52 L62.34,117.51 L61.67,116.73 L61.42,114.97 L62.71,113.82 L62.67,113.17 L63.91,111.06 L65.08,109.97 L65.34,109.11 L65.91,108.56 L67.10,106.63 L67.55,105.61 L66.69,103.73 L67.84,102.95 L69.40,102.15 L68.83,100.12 L70.05,98.51 L68.06,98.00 L69.95,96.30 L70.36,96.01 L69.96,94.27 L69.88,92.92 L72.48,91.83 L72.82,91.29 L72.09,89.31 L73.74,88.45 L72.55,87.08 L74.75,86.14 L73.16,84.97 L73.17,84.00 L74.63,82.45 L76.43,81.93 L74.90,80.42 L76.46,79.74 L78.77,77.75 L78.00,76.49 L81.39,75.90 L81.47,75.37 L82.81,74.77 L84.33,73.44 L85.16,72.70 L85.26,71.78 L85.33,71.06 L86.61,69.89" fill="none" stroke="#111111" stroke-width="1.4" stroke-linejoin="miter"/>
<path d="M375.20,255.00 C375.43,253.33 375.66,251.95 375.90,250.00 C376.24,247.24 376.52,243.48 377.00,240.00 C377.53,236.18 378.28,232.08 379.00,228.00 C379.75,223.75 380.63,219.49 381.40,215.00 C382.23,210.18 382.76,204.46 383.80,200.00 C384.67,196.30 385.87,193.33 386.90,190.00 C387.93,186.67 388.89,183.32 390.00,180.00 C391.12,176.65 392.32,173.32 393.60,170.00 C394.89,166.65 396.27,163.32 397.70,160.00 C399.14,156.65 400.65,153.32 402.20,150.00 C403.75,146.66 405.30,143.09 407.00,140.00 C408.55,137.17 410.31,134.93 411.90,132.10 C413.65,128.98 414.84,124.64 417.00,122.00 C418.86,119.73 421.67,118.52 423.60,116.80 C425.26,115.32 426.43,113.97 428.00,112.40 C429.80,110.60 431.75,108.38 433.80,106.60 C435.82,104.85 438.10,103.04 440.20,101.80 C441.99,100.74 443.90,100.27 445.50,99.40 C446.93,98.62 447.98,97.85 449.40,96.90 C451.17,95.72 453.44,94.08 455.30,92.80 C456.95,91.66 458.29,90.68 460.00,89.60 C461.97,88.35 464.30,86.97 466.50,85.80 C468.67,84.64 470.87,83.47 473.10,82.60 C475.27,81.75 477.39,81.20 479.70,80.60 C482.20,79.95 484.87,79.48 487.60,78.90 C490.55,78.28 493.72,77.48 496.80,77.00 C499.86,76.52 503.06,76.33 506.00,76.00 C508.71,75.70 510.97,75.45 513.80,75.10 C517.20,74.68 521.00,74.00 525.00,73.60 C529.58,73.14 534.87,73.18 539.80,72.60 C544.77,72.02 549.75,71.10 554.70,70.10 C559.68,69.10 564.86,67.69 569.60,66.60 C573.92,65.60 578.09,64.54 582.00,63.80 C585.47,63.15 588.41,62.68 591.90,62.30 C595.79,61.88 600.66,61.52 604.30,61.50 C607.17,61.48 609.50,61.60 612.00,61.90 C614.40,62.18 616.73,62.65 619.00,63.20 C621.20,63.73 623.27,64.47 625.40,65.10" fill="none" stroke="#1797f0" stroke-width="2.0" stroke-linejoin="round" stroke-linecap="round" />
<path d="M375.09,255.06 L376.39,253.72 L375.57,252.58 L374.97,251.26 L376.21,250.28 L375.06,248.56 L375.19,247.80 L376.78,245.81 L377.61,245.45 L376.96,243.86 L375.90,242.03 L376.93,240.83 L376.26,239.75 L376.07,238.77 L377.26,237.93 L377.65,236.53 L377.80,235.36 L377.90,233.79 L379.39,233.28 L379.22,231.80 L378.16,230.14 L378.29,228.79 L379.64,227.90 L380.05,226.71 L380.54,225.97 L378.46,224.18 L380.86,223.24 L381.24,221.99 L379.28,221.03 L381.20,219.51 L379.75,218.38 L382.08,217.61 L380.26,215.94 L380.44,214.58 L382.31,213.44 L381.94,212.45 L381.26,211.47 L381.31,210.14 L381.48,208.67 L381.91,207.28 L383.93,206.54 L382.53,205.37 L382.51,203.65 L384.25,202.64 L382.64,201.72 L383.11,199.77" fill="none" stroke="#1797f0" stroke-width="1.6" stroke-linejoin="miter"/>
<path d="M374.50,254.60 C374.70,251.40 374.87,248.23 375.10,245.00 C375.34,241.70 375.57,238.33 375.90,235.00 C376.23,231.66 376.63,228.33 377.10,225.00 C377.57,221.66 378.12,218.33 378.70,215.00 C379.28,211.66 379.93,208.33 380.60,205.00 C381.27,201.66 381.98,198.33 382.70,195.00 C383.42,191.66 384.12,188.33 384.90,185.00 C385.68,181.66 386.49,178.32 387.40,175.00 C388.32,171.66 389.34,168.32 390.40,165.00 C391.47,161.66 392.67,158.33 393.80,155.00 C394.93,151.67 396.04,148.33 397.20,145.00 C398.37,141.66 399.51,138.32 400.80,135.00 C402.11,131.65 403.60,128.37 405.00,125.00 C406.43,121.57 407.94,117.75 409.30,114.60 C410.45,111.94 411.53,109.74 412.60,107.30 C413.66,104.87 414.64,102.34 415.70,100.00 C416.71,97.78 417.70,95.74 418.80,93.60 C419.93,91.40 421.15,89.11 422.40,87.00 C423.59,84.98 424.87,83.10 426.10,81.20 C427.30,79.34 428.53,77.33 429.70,75.70 C430.69,74.32 431.56,73.00 432.60,72.00 C433.51,71.12 434.38,70.66 435.50,69.90 C436.97,68.90 439.03,67.56 440.70,66.60 C442.18,65.75 443.45,65.18 445.00,64.40 C446.81,63.49 449.06,62.31 450.90,61.50 C452.46,60.82 453.73,60.44 455.30,59.80 C457.15,59.04 459.06,58.00 461.30,57.20 C464.01,56.23 467.43,55.42 470.50,54.60 C473.56,53.79 476.53,53.04 479.70,52.30 C483.08,51.51 486.96,50.83 490.20,50.00 C493.03,49.28 495.47,48.51 498.10,47.70 C500.74,46.88 503.35,45.80 506.00,45.10 C508.59,44.41 510.96,44.03 513.80,43.50 C517.19,42.86 521.01,42.34 525.00,41.60 C529.60,40.74 534.84,39.27 539.80,38.60 C544.74,37.94 550.61,37.79 554.70,37.60 C557.56,37.46 559.32,37.68 562.00,37.40 C565.33,37.06 569.24,36.14 573.10,35.40 C577.31,34.59 582.16,33.64 586.30,32.70 C590.01,31.86 593.30,30.97 596.80,30.10 C600.30,29.23 604.03,28.40 607.30,27.50 C610.21,26.70 613.19,25.59 615.50,25.00 C617.15,24.58 618.23,24.29 619.80,24.10 C621.67,23.88 623.93,23.97 626.00,23.90 C628.09,23.83 630.20,23.77 632.30,23.70" fill="none" stroke="#111111" stroke-width="2.0" stroke-linejoin="round" stroke-linecap="round" />
<path d="M375.30,255.00 C375.30,253.33 375.25,251.95 375.30,250.00 C375.37,247.24 375.46,242.90 375.80,240.00 C376.06,237.74 376.50,236.00 376.90,234.00 C377.30,232.00 377.62,230.37 378.20,228.00 C379.05,224.49 380.37,219.47 381.70,215.00 C383.14,210.16 385.17,204.50 386.60,200.00 C387.77,196.33 388.60,193.32 389.70,190.00 C390.80,186.66 392.00,183.33 393.20,180.00 C394.40,176.66 395.62,173.32 396.90,170.00 C398.19,166.66 399.48,163.32 400.90,160.00 C402.34,156.65 404.08,153.35 405.50,150.00 C406.91,146.69 408.04,143.19 409.40,140.00 C410.68,137.00 412.06,134.06 413.40,131.40 C414.59,129.03 415.71,127.04 417.00,124.80 C418.37,122.41 419.87,119.76 421.40,117.50 C422.81,115.42 424.25,113.62 425.80,111.70 C427.41,109.72 429.47,107.91 430.90,105.80 C432.29,103.74 433.01,100.96 434.30,99.20 C435.33,97.78 436.44,96.84 437.70,95.80 C439.03,94.70 440.66,93.88 442.10,92.80 C443.59,91.68 445.06,90.50 446.50,89.20 C448.00,87.84 449.43,86.27 450.90,84.80 C452.37,83.33 453.78,81.80 455.30,80.40 C456.81,79.00 458.33,77.91 460.00,76.40 C462.02,74.57 464.28,72.06 466.50,70.10 C468.65,68.20 470.76,66.50 473.10,64.80 C475.58,63.00 478.37,61.35 481.00,59.60 C483.64,57.85 486.24,55.96 488.90,54.30 C491.51,52.67 494.15,51.13 496.80,49.70 C499.39,48.30 501.83,46.82 504.60,45.80 C507.49,44.73 510.57,44.15 513.80,43.50 C517.33,42.79 521.00,42.37 525.00,41.80 C529.59,41.14 535.11,40.54 539.80,39.80 C544.07,39.13 548.36,38.22 552.00,37.60 C554.94,37.10 557.01,36.84 560.00,36.30 C563.84,35.61 568.95,34.17 573.10,33.70 C576.80,33.28 580.30,33.21 583.70,33.40 C586.88,33.58 589.73,34.24 592.90,34.70 C596.29,35.20 600.01,35.80 603.40,36.30 C606.57,36.76 609.53,37.37 612.60,37.60 C615.66,37.83 618.73,37.75 621.80,37.70 C624.87,37.65 628.10,37.44 631.00,37.30 C633.60,37.17 635.93,37.03 638.40,36.90" fill="none" stroke="#A2142F" stroke-width="2.0" stroke-linejoin="round" stroke-linecap="round" />
<path d="M374.91,255.12 L375.59,253.97 L374.80,252.33 L374.74,251.07 L375.67,249.76 L375.41,248.57 L375.10,247.46 L376.03,246.32 L374.77,244.86 L375.05,243.99 L376.17,242.70 L376.26,241.41 L376.52,240.19 L375.63,239.02 L376.22,237.76 L376.56,236.35 L376.46,235.16 L376.60,233.76 L377.67,232.99 L378.20,231.72 L377.77,230.56 L377.36,229.31 L378.11,227.79 L378.04,226.83 L378.44,225.61 L379.32,224.39 L378.88,223.27 L379.37,221.92 L379.62,220.82 L379.74,219.82 L381.47,218.47 L381.41,217.64 L380.65,215.95 L382.19,215.22" fill="none" stroke="#A2142F" stroke-width="1.8" stroke-linejoin="miter"/>
<path d="M374.3,255 L377.8,255 L376.5,250 L375,250 Z" fill="#A2142F"/>
<line x1="375.4" y1="222.7" x2="377.5" y2="222.7" stroke="#1797f0" stroke-width="1.6"/>
<line x1="382.2" y1="213.5" x2="385.6" y2="213.5" stroke="#1797f0" stroke-width="1.6"/>
<line x1="381.7" y1="223" x2="384.6" y2="223" stroke="#1797f0" stroke-width="1.6"/>
<line x1="403.9" y1="135.6" x2="409" y2="135.6" stroke="#1797f0" stroke-width="1.6"/>
<line x1="417.7" y1="117.2" x2="424.3" y2="117.2" stroke="#1797f0" stroke-width="1.6"/>
<line x1="429.4" y1="112" x2="434.5" y2="112" stroke="#1797f0" stroke-width="1.6"/>
<path d="M32.30,562.00 C32.40,558.00 32.47,554.08 32.60,550.00 C32.73,545.75 32.92,541.33 33.10,537.00 C33.28,532.67 33.47,528.33 33.70,524.00 C33.93,519.67 34.16,515.15 34.50,511.00 C34.81,507.18 35.14,503.25 35.60,500.00 C35.97,497.40 36.56,495.25 36.90,493.00 C37.21,490.93 37.39,489.04 37.60,487.00 C37.82,484.88 37.89,482.92 38.20,480.50 C38.59,477.41 39.32,473.10 39.90,470.00 C40.36,467.51 40.79,465.75 41.30,463.30 C41.91,460.34 42.62,456.76 43.30,453.50 C43.98,450.26 44.65,447.04 45.40,443.80 C46.15,440.54 47.00,437.26 47.80,434.00 C48.60,430.76 49.29,427.53 50.20,424.30 C51.12,421.03 52.17,417.74 53.30,414.50 C54.44,411.24 55.78,408.05 57.00,404.80 C58.22,401.55 59.76,397.67 60.60,395.00 C61.17,393.20 61.17,392.21 61.80,390.40 C62.78,387.62 64.84,383.41 66.40,380.10 C67.88,376.96 69.23,373.99 70.90,371.00 C72.62,367.92 74.76,364.90 76.60,361.90 C78.38,359.00 80.27,355.95 81.80,353.30 C83.08,351.08 84.14,348.84 85.20,347.10 C86.01,345.78 86.60,344.62 87.50,343.70 C88.32,342.86 89.19,342.10 90.30,341.70 C91.59,341.24 93.43,341.34 94.90,341.40 C96.26,341.46 97.80,341.51 98.80,342.00 C99.59,342.39 100.08,342.91 100.60,343.70 C101.34,344.84 101.68,346.82 102.30,348.50 C103.00,350.39 103.38,352.94 104.60,354.50 C105.74,355.95 107.78,356.50 109.20,357.70 C110.62,358.90 111.78,360.38 113.10,361.70 C114.42,363.02 115.68,364.65 117.10,365.60 C118.34,366.43 119.57,367.00 121.00,367.30 C122.60,367.63 124.44,367.30 126.30,367.30 C128.36,367.30 130.63,367.37 132.80,367.30 C134.99,367.23 137.21,367.15 139.40,366.90 C141.61,366.65 143.81,366.23 146.00,365.80 C148.21,365.37 150.40,364.72 152.60,364.30 C154.77,363.89 156.93,363.73 159.10,363.30 C161.30,362.86 163.56,362.20 165.70,361.70 C167.72,361.23 169.63,360.83 171.60,360.40 L171.60,360.40 C172.70,361.03 173.74,361.71 174.90,362.30 C176.13,362.92 177.33,363.50 178.80,364.00 C180.61,364.61 182.78,365.03 185.00,365.50 C187.54,366.04 190.20,366.41 193.20,367.00 C196.87,367.73 201.49,368.98 205.40,369.60 C208.96,370.17 212.27,370.45 215.70,370.70 C219.10,370.95 222.50,371.10 225.90,371.10 C229.30,371.10 232.71,371.01 236.10,370.70 C239.51,370.38 242.89,369.62 246.30,369.20 C249.69,368.78 253.10,368.47 256.50,368.20 C259.90,367.93 263.29,367.63 266.70,367.60 C270.12,367.57 273.57,367.93 277.00,368.00 C280.41,368.07 283.72,368.03 287.20,368.00 C290.85,367.97 294.67,367.87 298.40,367.80" fill="none" stroke="#1797f0" stroke-width="2.1" stroke-linejoin="round" stroke-linecap="round" />
<path d="M32.80,563.40 C32.80,561.33 32.75,559.60 32.80,557.20 C32.87,553.85 33.11,549.55 33.30,545.20 C33.53,540.03 33.78,533.87 34.10,528.20 C34.42,522.51 34.73,516.79 35.20,511.10 C35.67,505.42 36.20,499.44 36.90,494.10 C37.53,489.30 38.28,484.73 39.10,480.50 C39.83,476.76 40.62,473.09 41.50,470.00 C42.21,467.50 43.03,465.76 43.80,463.30 C44.73,460.35 45.63,456.75 46.60,453.50 C47.57,450.25 48.49,447.02 49.60,443.80 C50.72,440.52 52.18,437.28 53.30,434.00 C54.41,430.78 55.19,427.52 56.30,424.30 C57.42,421.02 58.76,417.76 60.00,414.50 C61.23,411.26 62.48,408.05 63.70,404.80 C64.92,401.55 66.24,398.12 67.30,395.00 C68.25,392.18 68.76,389.80 69.80,386.90 C71.04,383.42 72.85,379.27 74.40,375.60 C75.89,372.08 77.34,368.61 78.90,365.30 C80.38,362.15 81.98,359.24 83.50,356.20 C85.01,353.17 86.58,349.84 88.00,347.10 C89.19,344.80 90.39,342.35 91.40,340.80 C92.05,339.81 92.60,339.27 93.20,338.50 L93.20,338.50 C93.77,339.10 94.40,339.50 94.90,340.30 C95.60,341.41 96.06,343.20 96.60,344.80 C97.20,346.58 97.50,349.00 98.30,350.50 C98.92,351.67 99.71,352.44 100.60,353.30 C101.56,354.22 102.76,354.90 103.90,355.80 C105.18,356.81 106.42,358.14 107.90,359.10 C109.47,360.12 111.21,361.36 113.10,361.70 C115.12,362.07 117.51,361.33 119.70,361.00 C121.91,360.67 124.11,360.18 126.30,359.70 C128.48,359.22 130.62,358.58 132.80,358.10 C134.99,357.62 137.20,357.18 139.40,356.80 C141.60,356.42 143.80,356.08 146.00,355.80 C148.20,355.52 150.41,355.32 152.60,355.10 C154.77,354.88 156.93,354.72 159.10,354.50 C161.29,354.28 163.50,354.03 165.70,353.80 C167.90,353.57 170.11,353.25 172.30,353.10 C174.47,352.95 176.66,352.86 178.80,352.90 C180.89,352.94 182.68,353.23 185.00,353.30 C187.98,353.40 191.80,353.47 195.20,353.30 C198.60,353.13 201.99,352.58 205.40,352.30 C208.82,352.02 212.12,351.78 215.70,351.60 C219.59,351.40 224.24,351.10 227.90,351.20 C230.91,351.28 233.22,351.66 236.10,351.90 C239.31,352.16 242.90,352.63 246.30,352.70 C249.70,352.77 253.10,352.48 256.50,352.30 C259.90,352.12 263.72,351.53 266.70,351.60 C269.03,351.65 270.70,351.91 272.90,352.30 C275.46,352.75 278.21,353.66 281.10,354.30 C284.31,355.01 287.90,355.68 291.30,356.30 C294.70,356.92 298.28,357.54 301.50,358.00 C304.38,358.42 306.97,358.77 309.70,359.00 C312.40,359.23 315.10,359.27 317.80,359.40" fill="none" stroke="#A2142F" stroke-width="2.2" stroke-linejoin="round" stroke-linecap="round" />
<path d="M376.70,563.00 C377.10,559.10 377.52,555.27 377.90,551.30 C378.29,547.20 378.57,542.96 379.00,538.80 C379.43,534.63 379.93,530.46 380.50,526.30 C381.07,522.13 381.65,517.96 382.40,513.80 C383.15,509.62 384.03,505.32 385.00,501.30 C385.91,497.50 386.91,494.30 388.00,490.30 C389.31,485.51 390.72,478.95 392.30,474.50 C393.51,471.09 394.85,468.53 396.20,465.70 C397.49,463.00 398.74,460.47 400.20,457.90 C401.70,455.27 403.43,452.59 405.10,450.10 C406.70,447.73 408.35,445.56 410.00,443.30 C411.65,441.03 413.34,438.78 415.00,436.50 C416.67,434.21 418.26,431.70 420.00,429.60 C421.61,427.66 423.33,426.07 425.00,424.30 C426.67,422.53 428.28,420.59 430.00,419.00 C431.62,417.51 433.21,416.23 435.00,415.00 C436.87,413.72 439.33,412.81 441.00,411.50 C442.44,410.37 443.34,409.08 444.60,407.80 C445.99,406.39 447.53,404.87 449.00,403.40 C450.47,401.93 451.90,400.36 453.40,399.00 C454.84,397.70 456.31,396.52 457.80,395.40 C459.24,394.32 460.70,393.28 462.20,392.40 C463.64,391.56 465.23,390.83 466.60,390.20 C467.77,389.66 469.10,388.76 469.90,388.80 C470.37,388.82 470.86,389.08 471.00,389.40 C471.16,389.77 470.73,390.47 470.60,391.00" fill="none" stroke="#0072BD" stroke-width="2.2" stroke-linejoin="round" stroke-linecap="round" />
<path d="M376.90,563.50 C377.33,559.43 377.79,555.39 378.20,551.30 C378.62,547.16 378.92,542.96 379.40,538.80 C379.88,534.63 380.47,530.46 381.10,526.30 C381.73,522.13 382.40,517.96 383.20,513.80 C384.00,509.62 384.90,505.32 385.90,501.30 C386.84,497.50 387.95,494.31 389.00,490.30 C390.25,485.52 391.29,478.94 392.80,474.50 C393.96,471.08 395.37,468.53 396.70,465.70 C397.97,463.01 399.16,460.47 400.60,457.90 C402.08,455.26 403.83,452.59 405.50,450.10 C407.10,447.73 408.78,445.57 410.40,443.30 C412.01,441.04 413.59,438.77 415.20,436.50 C416.82,434.21 418.40,431.70 420.10,429.60 C421.67,427.66 423.28,425.84 425.00,424.30 C426.59,422.87 428.42,421.90 430.00,420.60 C431.55,419.33 432.92,417.89 434.40,416.60 C435.85,415.33 437.32,414.08 438.80,412.90 C440.25,411.75 441.72,410.64 443.20,409.60 C444.65,408.58 446.13,407.63 447.60,406.70 C449.03,405.80 450.44,404.90 451.90,404.10 C453.34,403.30 454.82,402.57 456.30,401.90 C457.75,401.24 459.23,400.70 460.70,400.10 C462.17,399.50 463.63,398.87 465.10,398.30 C466.56,397.74 468.51,396.97 469.50,396.70 C469.98,396.57 470.23,396.57 470.60,396.50" fill="none" stroke="#A2142F" stroke-width="2.2" stroke-linejoin="round" stroke-linecap="round" />
<path d="M376.70,563.80 C377.10,559.63 377.52,555.47 377.90,551.30 C378.28,547.13 378.55,542.96 379.00,538.80 C379.45,534.63 380.00,530.46 380.60,526.30 C381.20,522.13 381.82,517.96 382.60,513.80 C383.38,509.62 384.30,505.32 385.30,501.30 C386.24,497.50 387.33,493.81 388.40,490.30 C389.40,487.03 390.63,483.74 391.50,480.90 C392.21,478.57 392.62,476.65 393.30,474.50 C394.01,472.26 394.75,469.94 395.70,467.70 C396.68,465.40 397.83,463.14 399.10,460.90 C400.42,458.57 401.87,456.03 403.50,454.00 C405.00,452.14 406.65,450.68 408.40,449.10 C410.24,447.44 412.22,445.81 414.30,444.30 C416.45,442.74 419.03,441.29 421.10,439.90 C422.88,438.71 424.35,437.83 426.00,436.50 C427.91,434.96 429.76,432.92 431.80,431.10 C433.98,429.15 436.45,426.96 438.70,425.20 C440.71,423.63 442.61,422.33 444.60,421.00 C446.55,419.70 448.58,418.39 450.50,417.30 C452.24,416.31 453.90,415.55 455.60,414.70 C457.30,413.85 458.95,413.12 460.70,412.20 C462.61,411.20 464.66,410.06 466.60,408.90 C468.56,407.73 470.60,406.36 472.40,405.20 C473.97,404.18 475.28,403.21 476.80,402.30 C478.35,401.37 479.74,400.62 481.60,399.70 C484.05,398.49 487.21,397.08 490.30,395.80 C493.73,394.38 497.67,393.13 501.30,391.60 C504.97,390.06 508.57,388.34 512.20,386.60 C515.87,384.84 519.51,382.76 523.20,381.10 C526.81,379.47 530.27,378.10 534.10,376.70 C538.26,375.18 542.72,373.80 547.30,372.40 C552.20,370.90 557.48,369.29 562.60,368.00 C567.68,366.72 572.80,365.80 577.90,364.70 C583.00,363.60 588.30,362.54 593.20,361.40 C597.77,360.34 601.91,359.17 606.40,358.10 C611.04,357.00 615.87,355.97 620.60,354.90" fill="none" stroke="#111111" stroke-width="2.2" stroke-linejoin="round" stroke-linecap="round" />
<path d="M469.4,393 L474,397.6 M474,393 L469.4,397.6" stroke="#222" stroke-width="0.9"/>
<line x1="485.8" y1="370.7" x2="478.4" y2="383.6" stroke="#000" stroke-width="1.15"/>
<path d="M473.9,391.9 L475.8,382.2 L481.4,384.9 Z" fill="#000"/>
<text x="502" y="361.9" font-size="15" text-anchor="middle" font-weight="normal" fill="#111" font-family="Liberation Serif, serif" textLength="112.3" lengthAdjust="spacingAndGlyphs">Strain gauge failed</text>
<rect x="209.5" y="180.3" width="108.80000000000001" height="59.29999999999998" fill="#fff" stroke="#9a9a9a" stroke-width="1"/>
<line x1="212.3" y1="191.1" x2="240" y2="191.1" stroke="#0072BD" stroke-width="1.6"/>
<text x="242.8" y="197.23" font-size="14.8" text-anchor="start" font-weight="normal" fill="#111" font-family="Liberation Sans, sans-serif" textLength="71.5" lengthAdjust="spacingAndGlyphs">EBR-260-1</text>
<line x1="212.3" y1="210.2" x2="240" y2="210.2" stroke="#A2142F" stroke-width="1.6"/>
<text x="242.8" y="215.83" font-size="14.8" text-anchor="start" font-weight="normal" fill="#111" font-family="Liberation Sans, sans-serif" textLength="71.5" lengthAdjust="spacingAndGlyphs">EBR-260-2</text>
<line x1="212.3" y1="229.3" x2="240" y2="229.3" stroke="#111111" stroke-width="1.6"/>
<text x="242.8" y="234.93" font-size="14.8" text-anchor="start" font-weight="normal" fill="#111" font-family="Liberation Sans, sans-serif" textLength="71.5" lengthAdjust="spacingAndGlyphs">EBR-260-3</text>
<rect x="537.5" y="184.5" width="126.10000000000002" height="58.0" fill="#fff" stroke="#9a9a9a" stroke-width="1"/>
<line x1="540.2" y1="195.1" x2="567.9" y2="195.1" stroke="#1797f0" stroke-width="1.7"/>
<text x="570.4" y="201.11" font-size="14.2" text-anchor="start" font-weight="normal" fill="#111" font-family="Liberation Sans, sans-serif" textLength="88.8" lengthAdjust="spacingAndGlyphs">EBROG-260-1</text>
<line x1="540.2" y1="213.4" x2="567.9" y2="213.4" stroke="#111111" stroke-width="1.7"/>
<text x="570.4" y="218.51" font-size="14.2" text-anchor="start" font-weight="normal" fill="#111" font-family="Liberation Sans, sans-serif" textLength="90.1" lengthAdjust="spacingAndGlyphs">EBROG-260-2</text>
<line x1="540.2" y1="231.7" x2="567.9" y2="231.7" stroke="#A2142F" stroke-width="1.7"/>
<text x="570.4" y="236.81" font-size="14.2" text-anchor="start" font-weight="normal" fill="#111" font-family="Liberation Sans, sans-serif" textLength="90.1" lengthAdjust="spacingAndGlyphs">EBROG-260-3</text>
<rect x="215.4" y="512.6" width="99.6" height="40.60000000000002" fill="#fff" stroke="#9a9a9a" stroke-width="1"/>
<line x1="218.1" y1="523.1" x2="245.8" y2="523.1" stroke="#1797f0" stroke-width="1.7"/>
<text x="248" y="529.59" font-size="14.7" text-anchor="start" font-weight="normal" fill="#111" font-family="Liberation Sans, sans-serif" textLength="63" lengthAdjust="spacingAndGlyphs">HB-260-1</text>
<line x1="218.1" y1="542.3" x2="245.8" y2="542.3" stroke="#A2142F" stroke-width="1.7"/>
<text x="248" y="547.59" font-size="14.7" text-anchor="start" font-weight="normal" fill="#111" font-family="Liberation Sans, sans-serif" textLength="63" lengthAdjust="spacingAndGlyphs">HB-260-2</text>
<rect x="555.6" y="499.1" width="106.5" height="57.5" fill="#fff" stroke="#9a9a9a" stroke-width="1"/>
<line x1="558.8" y1="509.6" x2="585.9" y2="509.6" stroke="#0072BD" stroke-width="1.7"/>
<text x="588.3" y="515.05" font-size="14.3" text-anchor="start" font-weight="normal" fill="#111" font-family="Liberation Sans, sans-serif" textLength="62.5" lengthAdjust="spacingAndGlyphs">NSM-80-1</text>
<line x1="558.8" y1="527.8" x2="585.9" y2="527.8" stroke="#A2142F" stroke-width="1.7"/>
<text x="588.3" y="533.15" font-size="14.3" text-anchor="start" font-weight="normal" fill="#111" font-family="Liberation Sans, sans-serif" textLength="69.9" lengthAdjust="spacingAndGlyphs">NSM-120-1</text>
<line x1="558.8" y1="546.4" x2="585.9" y2="546.4" stroke="#111111" stroke-width="1.7"/>
<text x="588.3" y="551.85" font-size="14.3" text-anchor="start" font-weight="normal" fill="#111" font-family="Liberation Sans, sans-serif" textLength="69.9" lengthAdjust="spacingAndGlyphs">NSM-160-1</text>
<text x="182.2" y="11.5" font-size="15.9" text-anchor="middle" font-weight="bold" fill="#000" font-family="Liberation Sans, sans-serif" textLength="33.3" lengthAdjust="spacingAndGlyphs">EBR</text>
<text x="522.9" y="13.1" font-size="16" text-anchor="middle" font-weight="bold" fill="#000" font-family="Liberation Sans, sans-serif" textLength="57.8" lengthAdjust="spacingAndGlyphs">EBROG</text>
<text x="181.6" y="321.35" font-size="15.4" text-anchor="middle" font-weight="bold" fill="#000" font-family="Liberation Sans, sans-serif" textLength="22.6" lengthAdjust="spacingAndGlyphs">HB</text>
<text x="527.3" y="318.55" font-size="15.3" text-anchor="middle" font-weight="bold" fill="#000" font-family="Liberation Sans, sans-serif" textLength="33.7" lengthAdjust="spacingAndGlyphs">NSM</text>
<text x="183.8" y="281.3" font-size="14.6" text-anchor="middle" font-weight="normal" fill="#222" font-family="Liberation Sans, sans-serif" textLength="63.6" lengthAdjust="spacingAndGlyphs">Slip (mm)</text>
<text x="525" y="282.6" font-size="14.6" text-anchor="middle" font-weight="normal" fill="#222" font-family="Liberation Sans, sans-serif" textLength="63" lengthAdjust="spacingAndGlyphs">Slip (mm)</text>
<text x="185.9" y="589.8" font-size="14.6" text-anchor="middle" font-weight="normal" fill="#222" font-family="Liberation Sans, sans-serif" textLength="63.3" lengthAdjust="spacingAndGlyphs">Slip (mm)</text>
<text x="534.6" y="591.5" font-size="14.6" text-anchor="middle" font-weight="normal" fill="#222" font-family="Liberation Sans, sans-serif" textLength="63" lengthAdjust="spacingAndGlyphs">Slip (mm)</text>
<text x="11.7" y="133.2" font-size="14.8" text-anchor="middle" font-weight="normal" fill="#222" font-family="Liberation Sans, sans-serif" textLength="66" lengthAdjust="spacingAndGlyphs" transform="rotate(-90 11.7 133.2)">Load (kN)</text>
<text x="355.3" y="137.4" font-size="14.8" text-anchor="middle" font-weight="normal" fill="#222" font-family="Liberation Sans, sans-serif" textLength="63.9" lengthAdjust="spacingAndGlyphs" transform="rotate(-90 355.3 137.4)">Load (kN)</text>
<text x="13" y="444.6" font-size="14.8" text-anchor="middle" font-weight="normal" fill="#222" font-family="Liberation Sans, sans-serif" textLength="63.7" lengthAdjust="spacingAndGlyphs" transform="rotate(-90 13 444.6)">Load (kN)</text>
<text x="354.1" y="444.6" font-size="14.8" text-anchor="middle" font-weight="normal" fill="#222" font-family="Liberation Sans, sans-serif" textLength="65" lengthAdjust="spacingAndGlyphs" transform="rotate(-90 354.1 444.6)">Load (kN)</text>
<text x="181.3" y="300.2" font-size="19" text-anchor="middle" font-weight="normal" fill="#111" font-family="Liberation Serif, serif" textLength="19.5" lengthAdjust="spacingAndGlyphs">(a)</text>
<text x="532.3" y="300.8" font-size="19" text-anchor="middle" font-weight="normal" fill="#111" font-family="Liberation Serif, serif" textLength="20.9" lengthAdjust="spacingAndGlyphs">(b)</text>
<text x="176.6" y="610.3" font-size="19" text-anchor="middle" font-weight="normal" fill="#111" font-family="Liberation Serif, serif" textLength="20.1" lengthAdjust="spacingAndGlyphs">(c)</text>
<text x="526.9" y="610.3" font-size="19" text-anchor="middle" font-weight="normal" fill="#111" font-family="Liberation Serif, serif" textLength="20.7" lengthAdjust="spacingAndGlyphs">(d)</text>
</svg></body></html>
